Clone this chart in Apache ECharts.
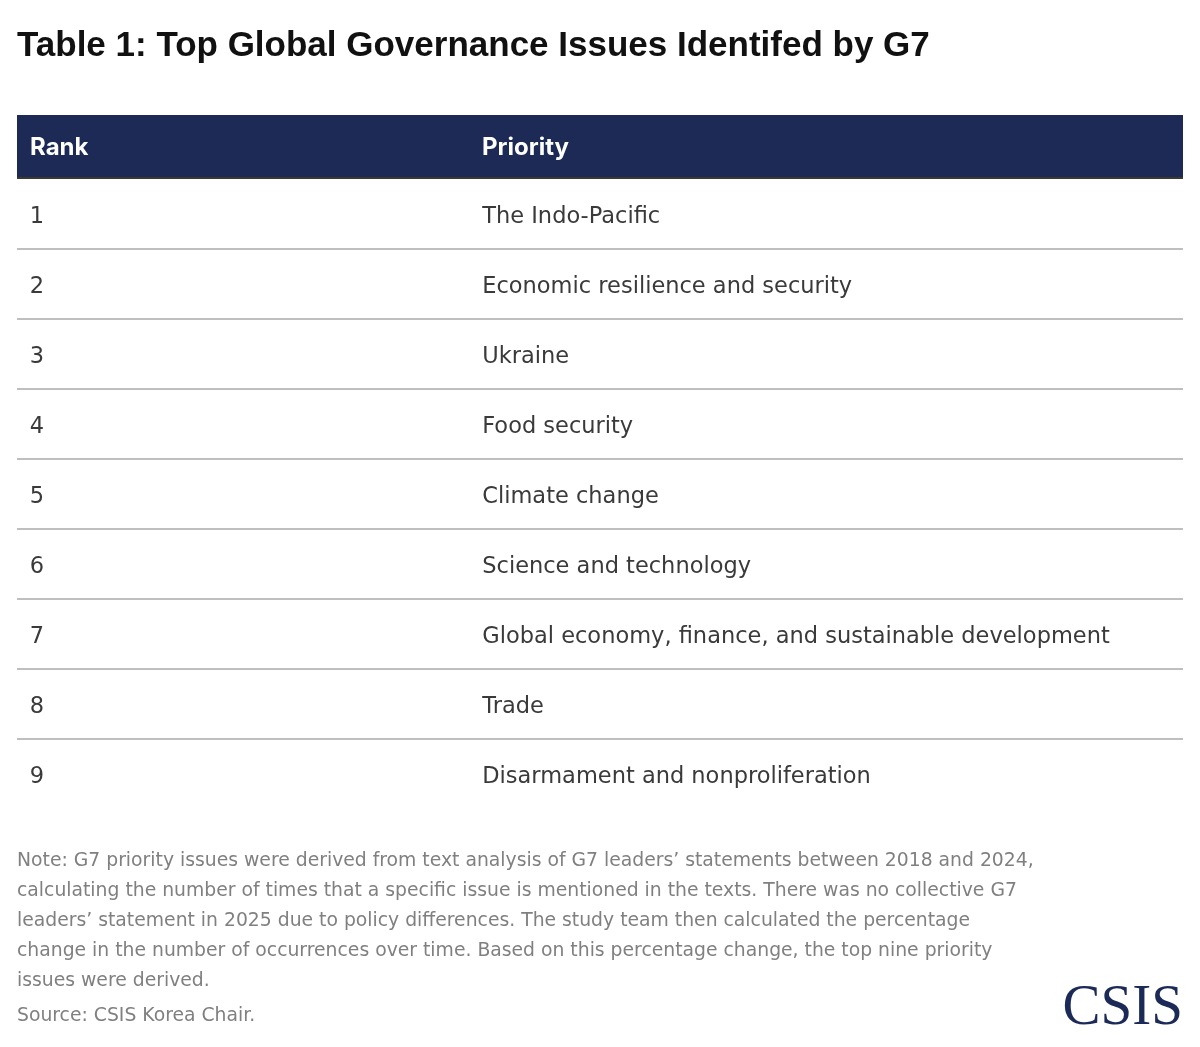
<!DOCTYPE html>
<html>
<head>
<meta charset="utf-8">
<script src="https://cdn.jsdelivr.net/npm/echarts@6/dist/echarts.min.js"></script>
<style>
  html, body { margin: 0; padding: 0; background: #fff; }
  #main { width: 1200px; height: 1047px; }
</style>
</head>
<body>
<div id="main"></div>
<script>
var titleText = 'Table 1: Top Global Governance Issues Identifed by G7';
var headers = ['Rank', 'Priority'];
var ranks = ['1', '2', '3', '4', '5', '6', '7', '8', '9'];
var priorities = [
    'The Indo-Pacific',
    'Economic resilience and security',
    'Ukraine',
    'Food security',
    'Climate change',
    'Science and technology',
    'Global economy, finance, and sustainable development',
    'Trade',
    'Disarmament and nonproliferation'
];
var noteLines = [
    'Note: G7 priority issues were derived from text analysis of G7 leaders\u2019 statements between 2018 and 2024,',
    'calculating the number of times that a specific issue is mentioned in the texts. There was no collective G7',
    'leaders\u2019 statement in 2025 due to policy differences. The study team then calculated the percentage',
    'change in the number of occurrences over time. Based on this percentage change, the top nine priority',
    'issues were derived.'
];
var sourceText = 'Source: CSIS Korea Chair.';

var bodyFont = '"DejaVu Sans", sans-serif';
var headFont = 'Inter, Roboto, sans-serif';
var titleFont = '"Liberation Sans", Arial, sans-serif';
// column offsets, as a share of the table width
var colPos = [0.011, 0.399];

var chart = echarts.init(document.getElementById('main'));

function renderRow(params, api)
{
    var idx = api.value(0);
    var p = api.coord([0, idx]);
    var w = params.coordSys.width;
    var x0 = params.coordSys.x;
    var h = api.size([0, 1])[1];
    var children = [
        {type: 'text', style: {x: x0 + colPos[0] * w, y: p[1] + 3, text: ranks[idx],
            fill: '#3a3a3a', font: '22.5px ' + bodyFont, verticalAlign: 'middle'}},
        {type: 'text', style: {x: x0 + colPos[1] * w, y: p[1] + 3, text: priorities[idx],
            fill: '#3a3a3a', font: '22.5px ' + bodyFont, verticalAlign: 'middle'}}
    ];
    if (idx < ranks.length - 1) {
        children.push({type: 'line', shape: {x1: x0, y1: p[1] + h / 2, x2: x0 + w, y2: p[1] + h / 2},
            style: {stroke: '#aaaaaa', lineWidth: 1.5}});
    }
    return {type: 'group', children: children};
}

var graphics = [
    {type: 'text', left: 17, top: 29, style: {text: titleText, fill: '#111',
        font: 'bold 35px ' + titleFont}},
    {type: 'rect', left: 17, top: 115, shape: {width: 1166, height: 63}, style: {fill: '#1e2a56'}},
    {type: 'rect', left: 17, top: 177, shape: {width: 1166, height: 2}, style: {fill: '#3a3a30'}},
    {type: 'text', left: 30, top: 136, style: {text: headers[0], fill: '#fff', font: 'bold 24px ' + headFont}},
    {type: 'text', left: 482, top: 136, style: {text: headers[1], fill: '#fff', font: 'bold 24px ' + headFont}},
    {type: 'text', left: 17, top: 846, style: {text: noteLines.join('\n'), fill: '#808080',
        font: '18.8px ' + bodyFont, lineHeight: 30}},
    {type: 'text', left: 17, top: 1007, style: {text: sourceText, fill: '#808080', font: '18.8px ' + bodyFont}},
    {type: 'text', right: 17, top: 981, style: {text: 'CSIS', fill: '#1b2a57',
        font: '57px "Liberation Serif", "DejaVu Serif", serif'}}
];

chart.setOption({
    animation: false,
    backgroundColor: '#fff',
    grid: {left: 17, right: 17, top: 179, height: 630},
    xAxis: {type: 'value', min: 0, max: 1, show: false},
    yAxis: {type: 'category', data: ranks, inverse: true, show: false},
    graphic: graphics,
    series: [{
        type: 'custom',
        renderItem: renderRow,
        data: ranks.map(function (r, i) { return [i]; }),
        encode: {y: 0},
        silent: true
    }]
});
</script>
</body>
</html>
